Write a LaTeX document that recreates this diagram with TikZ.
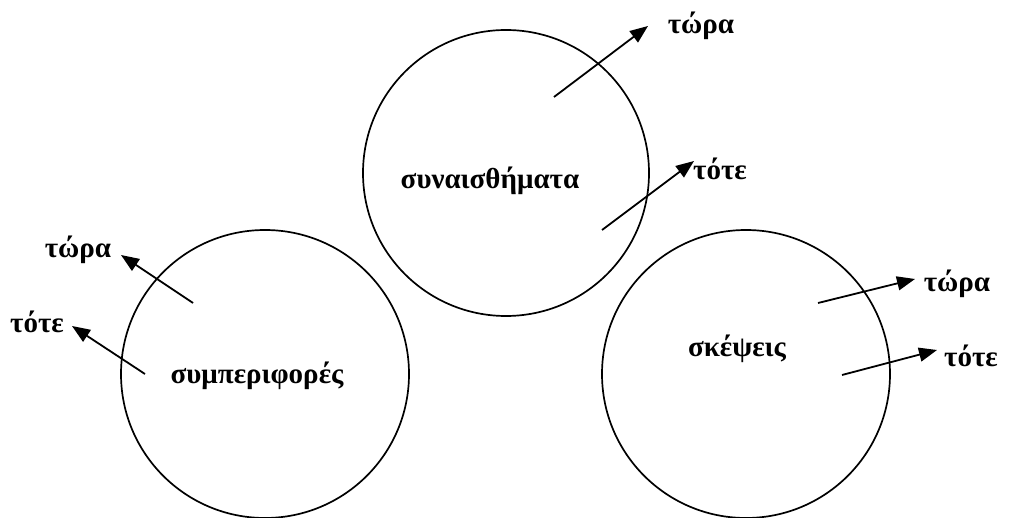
\documentclass[tikz,border=0pt]{standalone}
\usepackage{fontspec}
\setmainfont{Liberation Serif}
\usetikzlibrary{arrows.meta}
\tikzset{
  ring/.style={line width=1.7pt},
  pointer/.style={line width=1.8pt,-{Triangle[length=18pt,width=14pt]}},
  word/.style={font=\bfseries\fontsize{29}{34}\selectfont,inner sep=0pt}
}
\begin{document}
\begin{tikzpicture}[x=1pt,y=-1pt]
  \useasboundingbox (0,0) rectangle (1010,518);
  % the three circles
  \draw [ring] (506,173) circle (143pt);
  \draw [ring] (265,374) circle (144pt);
  \draw [ring] (746,374) circle (144pt);
  \node [word] (feel) at (490,181) {συναισθήματα};
  \node [word] (act) at (257,376) {συμπεριφορές};
  \node [word] (think) at (737,349) {σκέψεις};
  % labels
  \node [word] (feelnow) at (701,26) {τώρα};
  \node [word] (feelthen) at (720,169) {τότε};
  \node [word] (actnow) at (78,250) {τώρα};
  \node [word] (actthen) at (37,322) {τότε};
  \node [word] (thinknow) at (957,284) {τώρα};
  \node [word] (thinkthen) at (971,356) {τότε};
  % arrows
  \coordinate (a1) at (554,97);  \coordinate (b1) at (648,26);
  \coordinate (a2) at (602,230); \coordinate (b2) at (694,161);
  \coordinate (a3) at (193,303); \coordinate (b3) at (121,255);
  \coordinate (a4) at (145,374); \coordinate (b4) at (72,326);
  \coordinate (a5) at (818,303); \coordinate (b5) at (915,279);
  \coordinate (a6) at (842,375); \coordinate (b6) at (937,350);
  \foreach \i in {1,...,6}
    \draw [pointer] (a\i) -- (b\i);
\end{tikzpicture}
\end{document}
